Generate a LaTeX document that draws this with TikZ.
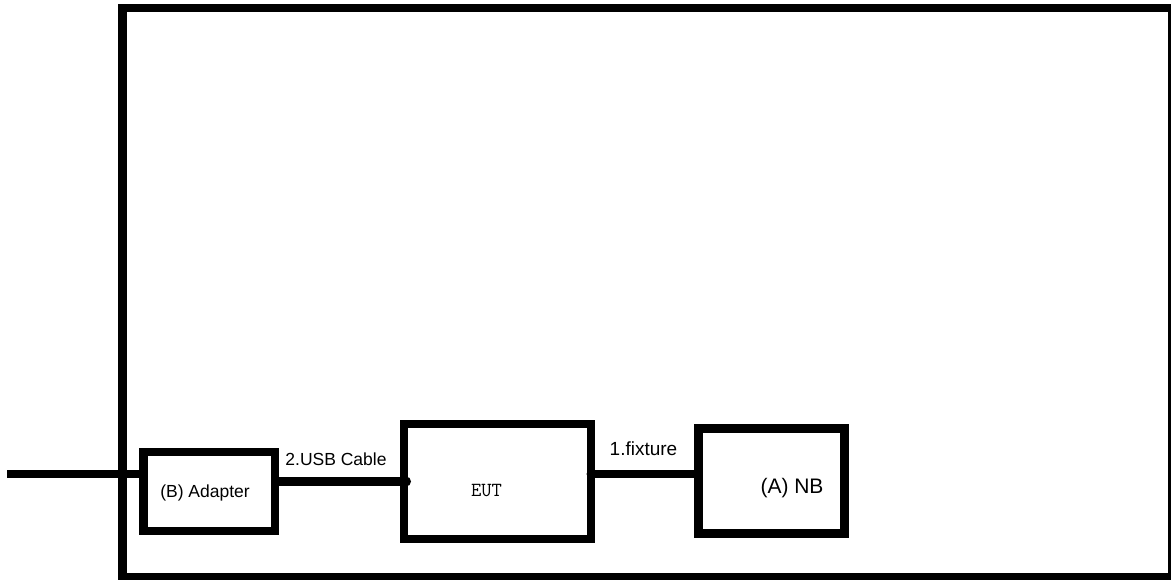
\documentclass[tikz,border=0pt]{standalone}
\usepackage{fontspec}
\setmainfont{Liberation Sans}
\begin{document}
\begin{tikzpicture}[x=1pt,y=-1pt,
  box/.style={draw,line width=8.5pt,inner sep=0pt,outer sep=0pt},
  cable/.style={line width=8.5pt}]
	\useasboundingbox (0,0) rectangle (1171,580);
	\node[box,minimum width=1050pt,minimum height=569.5pt] (room) at (647.5,292.75) {};
	\node[box,minimum width=131.5pt,minimum height=79pt] (adapter) at (209.25,491.5) {};
	\node[box,minimum width=187pt,minimum height=115pt] (eut) at (497.5,481.5) {};
	\node[box,minimum width=146pt,minimum height=105pt] (nb) at (771.5,481) {};
	\node[font=\fontsize{17.5}{20}\selectfont] (adaptertext) at (205,493) {(B) Adapter};
	\node[font=\ttfamily\fontsize{20}{22}\selectfont] (euttext) at (486.5,491) {EUT};
	\node[font=\fontsize{21}{24}\selectfont] (nbtext) at (792,488) {(A) NB};
	\node[font=\fontsize{17.5}{20}\selectfont] (usbtext) at (336,459.5) {2.USB Cable};
	\node[font=\fontsize{19}{21}\selectfont] (fixturetext) at (643.5,449) {1.fixture};
	\coordinate (plug) at (7,474);
	\draw[cable] (plug) -- (plug -| adapter.west);
	\draw[cable] (adapter.east |- eut.west) -- (eut.west);
	\fill ([xshift=2pt]eut.west) circle (5pt);
	\coordinate (fixout) at ([yshift=7.5pt]eut.east);
	\draw[cable] (fixout) -- (fixout -| nb.west);
	\fill (fixout) circle (4.5pt);
\end{tikzpicture}
\end{document}
